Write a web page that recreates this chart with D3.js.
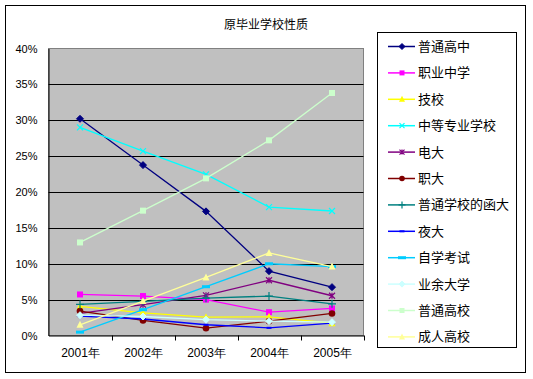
<!DOCTYPE html>
<html>
<head>
<meta charset="utf-8">
<script src="https://cdn.jsdelivr.net/npm/d3@7"></script>
<style>
  body { margin: 0; background: #fff; }
  text { font-family: "Liberation Sans", Arial, sans-serif; }
  .cjk { font-family: "Noto Sans CJK SC", sans-serif; }
</style>
</head>
<body>
<svg id="chart" width="533" height="379"></svg>
<script>
const years = ["2001年", "2002年", "2003年", "2004年", "2005年"];
const seriesNames = ["普通高中", "职业中学", "技校", "中等专业学校", "电大", "职大",
  "普通学校的函大", "夜大", "自学考试", "业余大学", "普通高校", "成人高校"];
const colors = ["#000080", "#ff00ff", "#ffff00", "#00ffff", "#800080", "#800000",
  "#008080", "#0000ff", "#00ccff", "#ccffff", "#ccffcc", "#ffff99"];
const markers = ["diamond", "square", "triangle", "x", "star", "circle",
  "plus", "dash", "longdash", "diamond", "square", "triangle"];

// percent values
const gaozhong   = [30.2, 23.75, 17.3, 8.97, 6.74];
const zhiyezx    = [5.72, 5.5, 5.0, 3.25, 3.77];
const jixiao     = [4.05, 3.16, 2.55, 2.6, 1.72];
const zhongzhuan = [29.0, 25.7, 22.45, 17.9, 17.35];
const dianda     = [3.07, 4.3, 5.6, 7.7, 5.54];
const zhida      = [3.4, 2.1, 1.02, 2.0, 3.07];
const handa      = [4.33, 4.75, 5.2, 5.5, 4.42];
const yeda       = [2.7, 2.3, 1.5, 1.07, 1.72];
const zixue      = [0.47, 3.6, 6.8, 10.0, 9.6];
const yeyu       = [2.83, 2.65, 2.2, 2.0, 1.86];
const gaoxiao    = [12.97, 17.4, 21.9, 27.2, 33.8];
const chengren   = [1.49, 4.8, 8.1, 11.5, 9.6];
const allValues = [gaozhong, zhiyezx, jixiao, zhongzhuan, dianda, zhida,
  handa, yeda, zixue, yeyu, gaoxiao, chengren];
const yTicks = [0, 0.05, 0.1, 0.15, 0.2, 0.25, 0.3, 0.35, 0.4];

const svg = d3.select("#chart");

// outer frame
svg.append("rect").attr("x", 5.5).attr("y", 5.5).attr("width", 520).attr("height", 367)
  .attr("fill", "#fff").attr("stroke", "#000");

svg.append("text").attr("class", "cjk").attr("x", 266).attr("y", 29)
  .attr("text-anchor", "middle").attr("font-size", 12).text("原毕业学校性质");

const PL = 48.5, PR = 363.5, PT = 48.5, PB = 335.5;
const x = d3.scalePoint().domain(years).range([PL, PR]).padding(0.5);
const y = d3.scaleLinear().domain([0, 0.4]).range([PB, PT]);

// plot background
svg.append("rect").attr("x", PL).attr("y", PT).attr("width", PR - PL).attr("height", PB - PT)
  .attr("fill", "#c0c0c0").attr("stroke", "#808080");

// gridlines
svg.append("g").selectAll("line").data(yTicks.filter(d => d > 0 && d < 0.4)).join("line")
  .attr("x1", PL).attr("x2", PR).attr("y1", d => Math.round(y(d)) + 0.5).attr("y2", d => Math.round(y(d)) + 0.5)
  .attr("stroke", "#000");

// y axis
const yAxis = svg.append("g").attr("transform", `translate(${PL},0)`)
  .call(d3.axisLeft(y).tickValues(yTicks).tickFormat(d3.format(".0%")).tickSize(0).tickPadding(11));
yAxis.select(".domain").attr("stroke", "#000");
yAxis.selectAll("text").attr("font-size", 11).attr("font-family", "Liberation Sans, Arial, sans-serif");

// x axis
const xAxis = svg.append("g").attr("transform", `translate(0,${PB})`)
  .call(d3.axisBottom(x).tickSize(0).tickPadding(13));
xAxis.select(".domain").attr("stroke", "#000");
xAxis.selectAll("text").attr("font-size", 12).attr("font-family", "Liberation Sans, 'Noto Sans CJK SC', sans-serif");
const step = x.step();
svg.append("g").selectAll("line").data(d3.range(1, years.length + 1)).join("line")
  .attr("x1", i => Math.round(PL + i * step) + 0.5).attr("x2", i => Math.round(PL + i * step) + 0.5)
  .attr("y1", PB).attr("y2", PB + 5).attr("stroke", "#000");

function drawMarker(g, type, color, s) {
  const h = s / 2;
  if (type === "diamond") {
    g.append("path").attr("d", `M0,${-h - 0.5}L${h + 0.5},0L0,${h + 0.5}L${-h - 0.5},0Z`).attr("fill", color).attr("stroke", color);
  } else if (type === "square") {
    g.append("rect").attr("x", -h).attr("y", -h).attr("width", s).attr("height", s).attr("fill", color);
  } else if (type === "triangle") {
    g.append("path").attr("d", `M0,${-h - 1}L${h + 0.5},${h}L${-h - 0.5},${h}Z`).attr("fill", color);
  } else if (type === "x") {
    g.append("path").attr("d", `M${-h},${-h}L${h},${h}M${-h},${h}L${h},${-h}`).attr("stroke", color).attr("stroke-width", 1.2);
  } else if (type === "star") {
    g.append("path").attr("d", `M${-h},${-h}L${h},${h}M${-h},${h}L${h},${-h}M0,${-h}L0,${h}`).attr("stroke", color).attr("stroke-width", 1.2);
  } else if (type === "circle") {
    g.append("circle").attr("r", h + 0.3).attr("fill", color);
  } else if (type === "plus") {
    g.append("path").attr("d", `M${-h - 1},0L${h + 1},0M0,${-h - 1}L0,${h + 1}`).attr("stroke", color).attr("stroke-width", 1.2);
  } else if (type === "dash") {
    g.append("rect").attr("x", -2.5).attr("y", -1).attr("width", 5).attr("height", 2).attr("fill", color);
  } else if (type === "longdash") {
    g.append("rect").attr("x", -4).attr("y", -1.5).attr("width", 8).attr("height", 3).attr("fill", color);
  }
}

const line = d3.line().x((d, i) => x(years[i])).y(d => y(d / 100));
allValues.forEach((vals, si) => {
  const g = svg.append("g");
  g.append("path").datum(vals).attr("d", line).attr("fill", "none")
    .attr("stroke", colors[si]).attr("stroke-width", 1.3);
  vals.forEach((v, i) => {
    const m = g.append("g").attr("transform", `translate(${x(years[i])},${y(v / 100)})`);
    drawMarker(m, markers[si], colors[si], 6);
  });
});

// legend
const LX = 377.5, LY = 32.5;
svg.append("rect").attr("x", LX).attr("y", LY).attr("width", 139).attr("height", 315)
  .attr("fill", "#fff").attr("stroke", "#000");
seriesNames.forEach((name, i) => {
  const cy = 46 + i * 26.4;
  const g = svg.append("g").attr("transform", `translate(0,${cy})`);
  g.append("line").attr("x1", 388).attr("x2", 415).attr("y1", 0.5).attr("y2", 0.5)
    .attr("stroke", colors[i]).attr("stroke-width", 1.5);
  const m = g.append("g").attr("transform", "translate(402,0.5)");
  drawMarker(m, markers[i], colors[i], 5);
  g.append("text").attr("class", "cjk").attr("x", 418).attr("y", 5)
    .attr("font-size", 13).text(name);
});
</script>
</body>
</html>
